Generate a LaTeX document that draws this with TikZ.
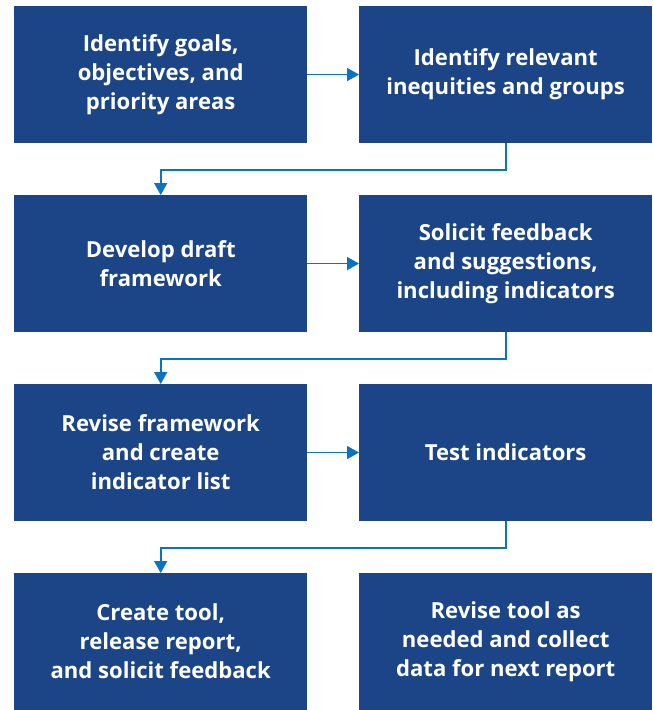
\documentclass[tikz,border=0pt]{standalone}
\usepackage{fontspec}
\setmainfont{Open Sans}
\usetikzlibrary{arrows.meta}
\definecolor{boxblue}{HTML}{1B4587}
\definecolor{arrowblue}{HTML}{0A74C2}
\begin{document}
\begin{tikzpicture}[x=1pt,y=-1pt,
  stepbox/.style={fill=boxblue, draw=none, text=white, minimum width=293pt, minimum height=136.7pt, anchor=north west, align=center, inner sep=0pt, font=\fontsize{22.1}{29}\selectfont\bfseries},
  conn/.style={draw=arrowblue, line width=1.8pt, -{Triangle[length=12pt,width=13pt]}}]
\useasboundingbox (0,0) rectangle (653,710);
\node[stepbox] (a) at (14,6) {Identify goals,\\objectives, and\\priority areas};
\node[stepbox] (b) at (359,6) {Identify relevant\\inequities and groups};
\node[stepbox] (c) at (14,195) {Develop draft\\framework};
\node[stepbox] (d) at (359,195) {Solicit feedback\\and suggestions,\\including indicators};
\node[stepbox] (e) at (14,384) {Revise framework\\and create\\indicator list};
\node[stepbox] (f) at (359,384) {Test indicators};
\node[stepbox] (g) at (14,573) {Create tool,\\release report,\\and solicit feedback};
\node[stepbox] (h) at (359,573) {Revise tool as\\needed and collect\\data for next report};
\draw[conn] (a.east) -- (b.west);
\draw[conn] (c.east) -- (d.west);
\draw[conn] (e.east) -- (f.west);
\draw[conn] (b.south) |- ++(0,26.5) -| (c.north);
\draw[conn] (d.south) |- ++(0,26.5) -| (e.north);
\draw[conn] (f.south) |- ++(0,26.5) -| (g.north);
\end{tikzpicture}
\end{document}
